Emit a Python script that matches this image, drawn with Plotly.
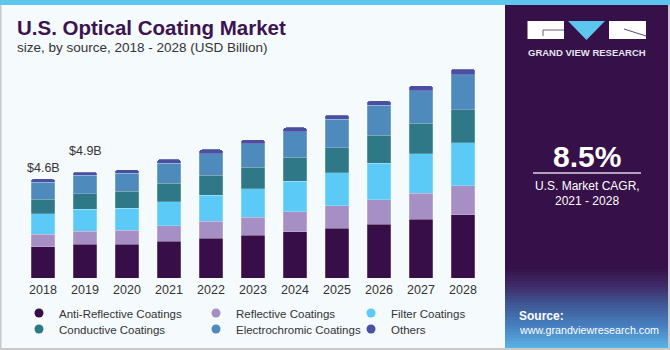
import plotly.graph_objects as go

# ---------------- data ----------------
years = ["2018", "2019", "2020", "2021", "2022", "2023", "2024", "2025", "2026", "2027", "2028"]
anti_reflective = [1.44, 1.56, 1.57, 1.70, 1.84, 1.99, 2.13, 2.31, 2.50, 2.72, 2.93]
reflective      = [0.59, 0.61, 0.65, 0.73, 0.79, 0.83, 0.94, 1.03, 1.13, 1.20, 1.34]
filter_coat     = [0.94, 1.01, 1.00, 1.11, 1.20, 1.31, 1.42, 1.53, 1.68, 1.84, 1.99]
conductive      = [0.68, 0.73, 0.79, 0.85, 0.93, 0.99, 1.10, 1.17, 1.30, 1.40, 1.54]
electrochromic  = [0.79, 0.84, 0.83, 0.93, 1.00, 1.10, 1.19, 1.30, 1.39, 1.51, 1.62]
others          = [0.15, 0.15, 0.17, 0.17, 0.19, 0.19, 0.19, 0.20, 0.20, 0.23, 0.25]
series_names = ["Anti-Reflective Coatings", "Reflective Coatings", "Filter Coatings",
                "Conductive Coatings", "Electrochromic Coatings", "Others"]
value_labels = {"2018": "$4.6B", "2019": "$4.9B"}

series = [anti_reflective, reflective, filter_coat, conductive, electrochromic, others]
colors = ["#380e48", "#a58fc5", "#5ccaf6", "#2f7888", "#4f8abd", "#4a4fa1"]
label_yshift = {"2018": 2, "2019": 12}  # style: pixel lift of the value labels

FONT = "Liberation Sans, Arial, sans-serif"

# ---------------- layout geometry (pixels) ----------------
W, H = 670, 350
L, R, T, B = 22, 186, 50, 72
PW, PH = W - L - R, H - T - B
SCALE = 21.6  # px per billion
YMAX = PH / SCALE


def px(x):
    return (x - L) / PW


def py(y):
    return (H - B - y) / PH


fig = go.Figure()

for name, vals, col in zip(series_names, series, colors):
    fig.add_trace(go.Bar(
        x=years, y=vals, name=name, marker_color=col,
        marker_line_color="rgba(255,255,255,0.35)", marker_line_width=0.6,
        showlegend=False, hoverinfo="x+y+name"))

# legend entries as circles, one legend per entry for exact placement
legend_pos = [(57, 313), (234, 313), (389, 313), (57, 329), (234, 329), (389, 329)]
legend_layouts = {}
for i, (name, col, (tx, ty)) in enumerate(zip(series_names, colors, legend_pos)):
    key = "legend" if i == 0 else f"legend{i + 1}"
    fig.add_trace(go.Scatter(
        x=[None], y=[None], mode="markers", name=name,
        marker=dict(color=col, size=9, symbol="circle"),
        legend=key, showlegend=True))
    legend_layouts[key] = dict(
        x=px(tx - 38), xanchor="left", y=py(ty), yanchor="middle",
        bgcolor="rgba(0,0,0,0)", borderwidth=0, itemwidth=30,
        font=dict(family=FONT, size=11.5, color="#333333"),
        orientation="v", itemclick=False, itemdoubleclick=False)

totals = [sum(v) for v in zip(*series)]
annotations = []
for yr, lab in value_labels.items():
    idx = years.index(yr)
    annotations.append(dict(
        x=idx, y=totals[idx], xref="x", yref="y", text=lab, showarrow=False,
        yanchor="bottom", yshift=label_yshift.get(yr, 5),
        font=dict(family=FONT, size=12.5, color="#333333")))

# titles
annotations.append(dict(
    x=px(16), y=py(28), xref="paper", yref="paper", xanchor="left", yanchor="middle",
    text="<b>U.S. Optical Coating Market</b>", showarrow=False, borderpad=0,
    font=dict(family=FONT, size=20.5, color="#3b1450")))
annotations.append(dict(
    x=px(16), y=py(47.3), xref="paper", yref="paper", xanchor="left", yanchor="middle",
    text="size, by source, 2018 - 2028 (USD Billion)", showarrow=False, borderpad=0,
    font=dict(family=FONT, size=13.5, color="#333333")))

# right panel texts
cx = 587
annotations += [
    dict(x=px(cx), y=py(52), xref="paper", yref="paper", xanchor="center", yanchor="middle",
         text="<b>GRAND VIEW RESEARCH</b>", showarrow=False,
         font=dict(family=FONT, size=9.5, color="#e6e4ee")),
    dict(x=px(cx), y=py(156), xref="paper", yref="paper", xanchor="center", yanchor="middle",
         text="<b>8.5%</b>", showarrow=False,
         font=dict(family=FONT, size=30, color="#ffffff")),
    dict(x=px(cx), y=py(186), xref="paper", yref="paper", xanchor="center", yanchor="middle",
         text="U.S. Market CAGR,", showarrow=False,
         font=dict(family=FONT, size=12, color="#ffffff")),
    dict(x=px(cx), y=py(201), xref="paper", yref="paper", xanchor="center", yanchor="middle",
         text="2021 - 2028", showarrow=False,
         font=dict(family=FONT, size=12, color="#ffffff")),
    dict(x=px(517), y=py(316), xref="paper", yref="paper", xanchor="left", yanchor="middle",
         text="<b>Source:</b>", showarrow=False,
         font=dict(family=FONT, size=12, color="#ffffff")),
    dict(x=px(517), y=py(330), xref="paper", yref="paper", xanchor="left", yanchor="middle",
         text="www.grandviewresearch.com", showarrow=False,
         font=dict(family=FONT, size=10.7, color="#ffffff")),
]


def rect(x0, y0, x1, y1, color, layer="below"):
    return dict(type="rect", xref="paper", yref="paper",
                x0=px(x0), x1=px(x1), y0=py(y1), y1=py(y0),
                fillcolor=color, line=dict(width=0), layer=layer)


def line(x0, y0, x1, y1, color, width):
    return dict(type="line", xref="paper", yref="paper",
                x0=px(x0), x1=px(x1), y0=py(y0), y1=py(y1),
                line=dict(color=color, width=width), layer="above")


shapes = []
# frame
shapes.append(rect(0, 0, 670, 5, "#5cc6ef"))
shapes.append(rect(0, 5, 1.5, 350, "#c9c9c9"))
shapes.append(rect(0, 348, 670, 350, "#c9c9c9"))
shapes.append(rect(668, 5, 670, 350, "#c9c9c9"))
# right panel
shapes.append(rect(505, 5, 668, 348, "#361048"))
stops = [(266, (54, 16, 72)), (285, (62, 45, 105)), (305, (64, 92, 152)),
         (325, (72, 128, 192)), (348, (92, 184, 232))]
y = 266
while y < 348:
    for (ya, ca), (yb, cb) in zip(stops[:-1], stops[1:]):
        if ya <= y < yb:
            t = (y - ya) / (yb - ya)
            c = tuple(int(round(ca[k] + (cb[k] - ca[k]) * t)) for k in range(3))
            break
    shapes.append(rect(505, y, 668, min(y + 3, 348), "rgb(%d,%d,%d)" % c))
    y += 3
# logo
shapes.append(rect(527.5, 21, 564, 39, "#ffffff"))
shapes.append(rect(609, 21, 646, 39, "#ffffff"))
shapes.append(dict(type="path", xref="paper", yref="paper",
                   path="M %f %f L %f %f L %f %f Z" % (px(568), py(21), px(605), py(21), px(586.5), py(40)),
                   fillcolor="#5cc6ef", line=dict(width=0), layer="below"))
shapes.append(line(543, 30, 564, 30, "#6a5a80", 1))
shapes.append(line(543, 30, 543, 36, "#6a5a80", 1))
shapes.append(line(624, 29, 646, 36, "#5a4a70", 1))
# CAGR rule
shapes.append(line(533, 173, 641, 173, "#d8d4e0", 1.5))

layout = dict(
    width=W, height=H,
    margin=dict(l=L, r=R, t=T, b=B, pad=0, autoexpand=False),
    paper_bgcolor="#f5fafd", plot_bgcolor="#f5fafd",
    barmode="stack", bargap=0.43, barcornerradius=3,
    xaxis=dict(type="category", range=[-0.5, 10.5], showgrid=False, zeroline=False,
               showline=False, ticks="", fixedrange=True, ticklabelstandoff=2,
               tickfont=dict(family=FONT, size=12.5, color="#333333")),
    yaxis=dict(range=[0, YMAX], visible=False, fixedrange=True),
    annotations=annotations, shapes=shapes,
    font=dict(family=FONT),
    showlegend=True,
)
layout.update(legend_layouts)
fig.update_layout(**layout)

fig.write_html("out.html", config={"displayModeBar": False})
